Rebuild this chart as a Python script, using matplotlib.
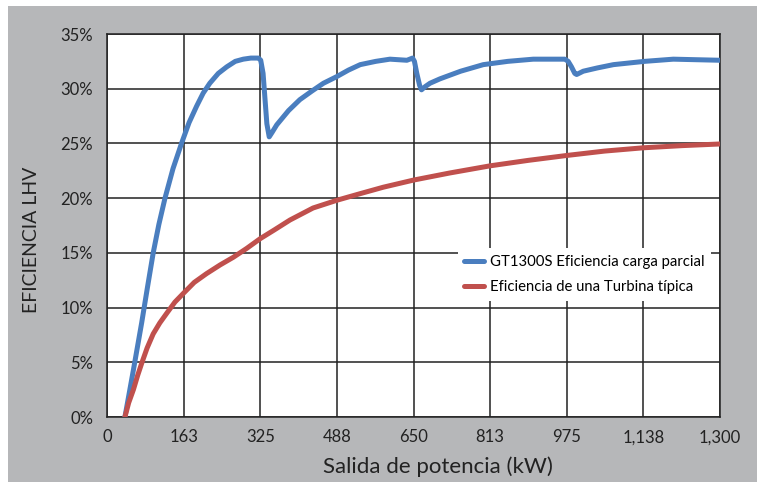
import numpy as np
import matplotlib.pyplot as plt
from matplotlib.patches import Rectangle

plt.rcParams['font.family'] = ['Lato', 'DejaVu Sans']

# GT1300S curva de carga parcial (kW, %)
gt_kw = [38, 56, 73.5, 86, 98, 110, 123, 140, 158, 174, 190, 204, 218, 236, 254, 272, 289, 305, 321,
         326, 331, 339, 344, 350, 360, 385, 409, 435, 459, 487, 512, 537, 570, 600, 636, 648,
         652, 657, 663, 667, 675, 685, 706, 750, 798, 850, 904, 940, 971,
         978, 985, 992, 996, 1010, 1040, 1074, 1140, 1201, 1250, 1300]
gt_eff = [0.0, 4.3, 8.6, 11.9, 15.0, 17.6, 20.0, 22.7, 25.0, 26.9, 28.4, 29.6, 30.5, 31.4, 32.0, 32.5, 32.7, 32.8, 32.8,
          32.6, 31.4, 26.8, 25.6, 26.0, 26.7, 28.0, 29.0, 29.8, 30.5, 31.1, 31.7, 32.2, 32.5, 32.7, 32.6, 32.8,
          32.5, 31.4, 30.3, 29.9, 30.2, 30.5, 30.9, 31.6, 32.2, 32.5, 32.7, 32.7, 32.7,
          32.5, 32.0, 31.4, 31.3, 31.6, 31.9, 32.2, 32.5, 32.7, 32.65, 32.6]

# turbina tipica
tt_kw = [38, 46, 56, 65, 73.5, 85, 98, 112, 127, 144, 162, 185, 211, 240, 268, 296, 325, 355, 388,
         437, 487, 536, 586, 650, 727, 812, 893, 975, 1055, 1137, 1220, 1300]
tt_eff = [0.0, 1.3, 2.5, 3.8, 4.9, 6.3, 7.6, 8.6, 9.5, 10.5, 11.3, 12.3, 13.1, 13.9, 14.6, 15.4, 16.3, 17.1, 18.0,
          19.1, 19.8, 20.4, 21.0, 21.65, 22.3, 22.95, 23.45, 23.9, 24.3, 24.6, 24.8, 24.95]

xticks = [0, 162.5, 325, 487.5, 650, 812.5, 975, 1137.5, 1300]
xlabels = ['0', '163', '325', '488', '650', '813', '975', '1,138', '1,300']
yticks = [0, 5, 10, 15, 20, 25, 30, 35]

fig = plt.figure(figsize=(7.57, 4.82), dpi=100)
fig.patches.append(Rectangle((8 / 757, 0), 1, 1 - 6 / 482, transform=fig.transFigure,
                             facecolor='#b6b7b9', edgecolor='none', zorder=-10))
ax = fig.add_axes([107 / 757, 65 / 482, 613 / 757, 383 / 482])
ax.set_facecolor('white')

ax.plot(gt_kw, gt_eff, color='#4a7ebf', lw=3.6, solid_capstyle='round', solid_joinstyle='round',
        label='GT1300S Eficiencia carga parcial', zorder=3)
ax.plot(tt_kw, tt_eff, color='#c0504d', lw=3.6, solid_capstyle='round', solid_joinstyle='round',
        label='Eficiencia de una Turbina típica', zorder=3)

ax.set_xlim(0, 1300)
ax.set_ylim(0, 35)
ax.set_xticks(xticks)
ax.set_xticklabels(xlabels)
ax.set_yticks(yticks)
ax.set_yticklabels([f'{v}%' for v in yticks])
ax.grid(True, color='#222222', lw=1.1)
ax.set_axisbelow(True)
for s in ax.spines.values():
    s.set_color('#222222')
    s.set_linewidth(1.1)
ax.tick_params(length=0, labelsize=12, colors='#222222')
ax.tick_params(axis='x', pad=9)
ax.tick_params(axis='y', pad=10)

ax.set_xlabel('Salida de potencia (kW)', fontsize=16, color='#222222')
ax.xaxis.set_label_coords(0.54, -0.102)
ax.set_ylabel('EFICIENCIA LHV', fontsize=14, color='#222222')
ax.yaxis.set_label_coords(-0.109, 0.462)

leg = ax.legend(loc='upper left', bbox_to_anchor=(0.56, 0.46), frameon=True, fontsize=10.7,
                handlelength=1.35, handletextpad=0.35, borderpad=0.45, labelspacing=0.75,
                fancybox=False)
leg.get_frame().set_facecolor('white')
leg.get_frame().set_edgecolor('none')
leg.get_frame().set_alpha(1)

fig.savefig('out.png', dpi=100)
